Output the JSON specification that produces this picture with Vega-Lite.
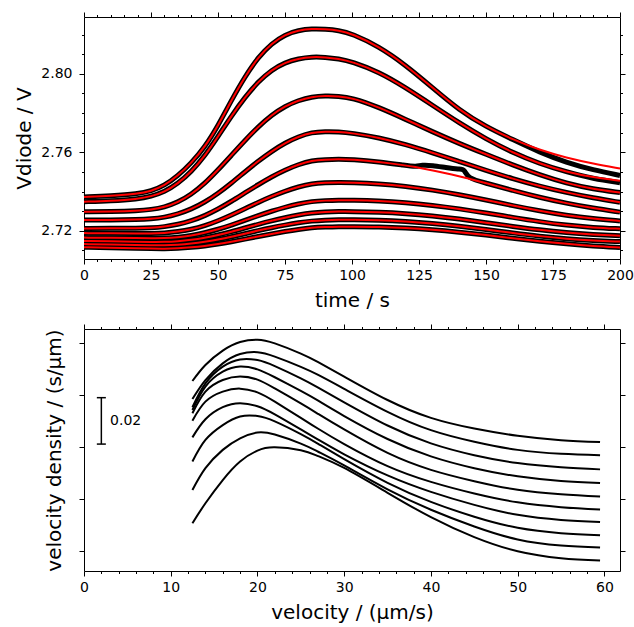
{
  "$schema": "https://vega.github.io/schema/vega-lite/v6.json",
  "padding": {"left": 14, "top": 11, "right": 8, "bottom": 5},
  "spacing": 13,
  "config": {
    "font": "DejaVu Sans",
    "view": {"stroke": null},
    "axis": {
      "labelFont": "DejaVu Sans", "titleFont": "DejaVu Sans",
      "labelFontSize": 14, "titleFontSize": 20, "titleFontWeight": "normal",
      "domainColor": "black", "tickColor": "black", "labelColor": "black", "titleColor": "black",
      "grid": false, "domainWidth": 1, "tickWidth": 1
    }
  },
  "datasets": {
    "vd": [
      {"c":1,"t":0,"f":2.7372,"m":2.7372},{"c":1,"t":10,"f":2.7378,"m":2.7378},{"c":1,"t":20,"f":2.7388,"m":2.7388},{"c":1,"t":25,"f":2.7402,"m":2.7402},{"c":1,"t":30,"f":2.743,"m":2.743},{"c":1,"t":35,"f":2.748,"m":2.748},{"c":1,"t":40,"f":2.7545,"m":2.7545},{"c":1,"t":45,"f":2.7625,"m":2.7625},{"c":1,"t":50,"f":2.7735,"m":2.7735},{"c":1,"t":55,"f":2.7865,"m":2.7865},{"c":1,"t":60,"f":2.7985,"m":2.7985},{"c":1,"t":65,"f":2.8085,"m":2.8085},{"c":1,"t":70,"f":2.8155,"m":2.8155},{"c":1,"t":75,"f":2.82,"m":2.82},{"c":1,"t":80,"f":2.8222,"m":2.8222},{"c":1,"t":85,"f":2.823,"m":2.823},{"c":1,"t":90,"f":2.8228,"m":2.8228},{"c":1,"t":95,"f":2.8222,"m":2.8222},{"c":1,"t":100,"f":2.8205,"m":2.8205},{"c":1,"t":110,"f":2.814,"m":2.814},{"c":1,"t":120,"f":2.8045,"m":2.8045},{"c":1,"t":130,"f":2.793,"m":2.793},{"c":1,"t":140,"f":2.7815,"m":2.7815},{"c":1,"t":150,"f":2.773,"m":2.773},{"c":1,"t":160,"f":2.7665,"m":2.7665},{"c":1,"t":170,"f":2.7612,"m":2.76},{"c":1,"t":180,"f":2.7572,"m":2.7548},{"c":1,"t":190,"f":2.7542,"m":2.751},{"c":1,"t":200,"f":2.7517,"m":2.7482},
      {"c":2,"t":0,"f":2.7348,"m":2.7348},{"c":2,"t":10,"f":2.7352,"m":2.7352},{"c":2,"t":20,"f":2.7362,"m":2.7362},{"c":2,"t":25,"f":2.7375,"m":2.7375},{"c":2,"t":30,"f":2.7398,"m":2.7398},{"c":2,"t":35,"f":2.744,"m":2.744},{"c":2,"t":40,"f":2.75,"m":2.75},{"c":2,"t":45,"f":2.758,"m":2.758},{"c":2,"t":50,"f":2.768,"m":2.768},{"c":2,"t":55,"f":2.7785,"m":2.7785},{"c":2,"t":60,"f":2.788,"m":2.788},{"c":2,"t":65,"f":2.796,"m":2.796},{"c":2,"t":70,"f":2.802,"m":2.802},{"c":2,"t":75,"f":2.8058,"m":2.8058},{"c":2,"t":80,"f":2.8078,"m":2.8078},{"c":2,"t":85,"f":2.8087,"m":2.8087},{"c":2,"t":90,"f":2.8085,"m":2.8085},{"c":2,"t":95,"f":2.8077,"m":2.8077},{"c":2,"t":100,"f":2.8062,"m":2.8062},{"c":2,"t":110,"f":2.801,"m":2.801},{"c":2,"t":120,"f":2.793,"m":2.793},{"c":2,"t":130,"f":2.784,"m":2.784},{"c":2,"t":140,"f":2.775,"m":2.775},{"c":2,"t":150,"f":2.7668,"m":2.7668},{"c":2,"t":160,"f":2.7598,"m":2.7598},{"c":2,"t":170,"f":2.7542,"m":2.7542},{"c":2,"t":180,"f":2.75,"m":2.75},{"c":2,"t":190,"f":2.7472,"m":2.7465},{"c":2,"t":200,"f":2.7455,"m":2.7445},
      {"c":3,"t":0,"f":2.7297,"m":2.7297},{"c":3,"t":10,"f":2.7298,"m":2.7298},{"c":3,"t":20,"f":2.7302,"m":2.7302},{"c":3,"t":25,"f":2.7308,"m":2.7308},{"c":3,"t":30,"f":2.732,"m":2.732},{"c":3,"t":35,"f":2.7345,"m":2.7345},{"c":3,"t":40,"f":2.7385,"m":2.7385},{"c":3,"t":45,"f":2.744,"m":2.744},{"c":3,"t":50,"f":2.751,"m":2.751},{"c":3,"t":55,"f":2.7585,"m":2.7585},{"c":3,"t":60,"f":2.766,"m":2.766},{"c":3,"t":65,"f":2.773,"m":2.773},{"c":3,"t":70,"f":2.779,"m":2.779},{"c":3,"t":75,"f":2.7835,"m":2.7835},{"c":3,"t":80,"f":2.7865,"m":2.7865},{"c":3,"t":85,"f":2.7883,"m":2.7883},{"c":3,"t":90,"f":2.7888,"m":2.7888},{"c":3,"t":95,"f":2.7886,"m":2.7886},{"c":3,"t":100,"f":2.7878,"m":2.7878},{"c":3,"t":110,"f":2.783,"m":2.783},{"c":3,"t":120,"f":2.7768,"m":2.7768},{"c":3,"t":130,"f":2.7705,"m":2.7705},{"c":3,"t":140,"f":2.7645,"m":2.7645},{"c":3,"t":150,"f":2.759,"m":2.759},{"c":3,"t":160,"f":2.7535,"m":2.7535},{"c":3,"t":170,"f":2.7485,"m":2.7485},{"c":3,"t":180,"f":2.7442,"m":2.7442},{"c":3,"t":190,"f":2.7412,"m":2.7412},{"c":3,"t":200,"f":2.7395,"m":2.7395},
      {"c":4,"t":0,"f":2.7255,"m":2.7255},{"c":4,"t":10,"f":2.7255,"m":2.7255},{"c":4,"t":20,"f":2.7257,"m":2.7257},{"c":4,"t":25,"f":2.726,"m":2.726},{"c":4,"t":30,"f":2.7268,"m":2.7268},{"c":4,"t":35,"f":2.7285,"m":2.7285},{"c":4,"t":40,"f":2.731,"m":2.731},{"c":4,"t":45,"f":2.7345,"m":2.7345},{"c":4,"t":50,"f":2.739,"m":2.739},{"c":4,"t":55,"f":2.7443,"m":2.7443},{"c":4,"t":60,"f":2.75,"m":2.75},{"c":4,"t":65,"f":2.7555,"m":2.7555},{"c":4,"t":70,"f":2.7605,"m":2.7605},{"c":4,"t":75,"f":2.7648,"m":2.7648},{"c":4,"t":80,"f":2.768,"m":2.768},{"c":4,"t":85,"f":2.7702,"m":2.7702},{"c":4,"t":90,"f":2.7706,"m":2.7706},{"c":4,"t":95,"f":2.7705,"m":2.7705},{"c":4,"t":100,"f":2.7698,"m":2.7698},{"c":4,"t":110,"f":2.7675,"m":2.7675},{"c":4,"t":120,"f":2.764,"m":2.764},{"c":4,"t":130,"f":2.7598,"m":2.7598},{"c":4,"t":140,"f":2.7553,"m":2.7553},{"c":4,"t":150,"f":2.7508,"m":2.7508},{"c":4,"t":160,"f":2.7465,"m":2.7465},{"c":4,"t":170,"f":2.7427,"m":2.7427},{"c":4,"t":180,"f":2.7395,"m":2.7395},{"c":4,"t":190,"f":2.7367,"m":2.7367},{"c":4,"t":200,"f":2.7345,"m":2.7345},
      {"c":5,"t":0,"f":2.7212,"m":2.7212},{"c":5,"t":10,"f":2.7212,"m":2.7212},{"c":5,"t":20,"f":2.7213,"m":2.7213},{"c":5,"t":25,"f":2.7215,"m":2.7215},{"c":5,"t":30,"f":2.722,"m":2.722},{"c":5,"t":35,"f":2.7232,"m":2.7232},{"c":5,"t":40,"f":2.725,"m":2.725},{"c":5,"t":45,"f":2.7276,"m":2.7276},{"c":5,"t":50,"f":2.731,"m":2.731},{"c":5,"t":55,"f":2.735,"m":2.735},{"c":5,"t":60,"f":2.7393,"m":2.7393},{"c":5,"t":65,"f":2.7435,"m":2.7435},{"c":5,"t":70,"f":2.7475,"m":2.7475},{"c":5,"t":75,"f":2.751,"m":2.751},{"c":5,"t":80,"f":2.7538,"m":2.7538},{"c":5,"t":85,"f":2.7558,"m":2.7558},{"c":5,"t":90,"f":2.7563,"m":2.7563},{"c":5,"t":95,"f":2.7565,"m":2.7565},{"c":5,"t":100,"f":2.7563,"m":2.7563},{"c":5,"t":110,"f":2.7552,"m":2.7552},{"c":5,"t":120,"f":2.7533,"m":2.7533},{"c":5,"t":124,"f":2.7524,"m":2.7526},{"c":5,"t":126,"f":2.7519,"m":2.7536},{"c":5,"t":130,"f":2.7508,"m":2.7533},{"c":5,"t":135,"f":2.7494,"m":2.7522},{"c":5,"t":140,"f":2.7478,"m":2.7513},{"c":5,"t":142,"f":2.7471,"m":2.7515},{"c":5,"t":143,"f":2.7468,"m":2.7468},{"c":5,"t":150,"f":2.7443,"m":2.7443},{"c":5,"t":160,"f":2.7405,"m":2.7405},{"c":5,"t":170,"f":2.737,"m":2.737},{"c":5,"t":180,"f":2.734,"m":2.734},{"c":5,"t":190,"f":2.7315,"m":2.7315},{"c":5,"t":200,"f":2.7295,"m":2.7295},
      {"c":6,"t":0,"f":2.7188,"m":2.7188},{"c":6,"t":10,"f":2.7187,"m":2.7187},{"c":6,"t":20,"f":2.7186,"m":2.7186},{"c":6,"t":25,"f":2.7186,"m":2.7186},{"c":6,"t":30,"f":2.7188,"m":2.7188},{"c":6,"t":35,"f":2.7195,"m":2.7195},{"c":6,"t":40,"f":2.7207,"m":2.7207},{"c":6,"t":45,"f":2.7225,"m":2.7225},{"c":6,"t":50,"f":2.725,"m":2.725},{"c":6,"t":55,"f":2.728,"m":2.728},{"c":6,"t":60,"f":2.7312,"m":2.7312},{"c":6,"t":65,"f":2.7345,"m":2.7345},{"c":6,"t":70,"f":2.7375,"m":2.7375},{"c":6,"t":75,"f":2.7402,"m":2.7402},{"c":6,"t":80,"f":2.7424,"m":2.7424},{"c":6,"t":85,"f":2.744,"m":2.744},{"c":6,"t":90,"f":2.7445,"m":2.7445},{"c":6,"t":95,"f":2.7447,"m":2.7447},{"c":6,"t":100,"f":2.7446,"m":2.7446},{"c":6,"t":110,"f":2.744,"m":2.744},{"c":6,"t":120,"f":2.7427,"m":2.7427},{"c":6,"t":130,"f":2.7408,"m":2.7408},{"c":6,"t":140,"f":2.7384,"m":2.7384},{"c":6,"t":150,"f":2.7357,"m":2.7357},{"c":6,"t":160,"f":2.7328,"m":2.7328},{"c":6,"t":170,"f":2.7301,"m":2.7301},{"c":6,"t":180,"f":2.7278,"m":2.7278},{"c":6,"t":190,"f":2.7261,"m":2.7261},{"c":6,"t":200,"f":2.725,"m":2.725},
      {"c":7,"t":0,"f":2.7165,"m":2.7165},{"c":7,"t":10,"f":2.7164,"m":2.7164},{"c":7,"t":20,"f":2.7163,"m":2.7163},{"c":7,"t":25,"f":2.7162,"m":2.7162},{"c":7,"t":30,"f":2.7162,"m":2.7162},{"c":7,"t":35,"f":2.7166,"m":2.7166},{"c":7,"t":40,"f":2.7175,"m":2.7175},{"c":7,"t":45,"f":2.7189,"m":2.7189},{"c":7,"t":50,"f":2.7207,"m":2.7207},{"c":7,"t":55,"f":2.7229,"m":2.7229},{"c":7,"t":60,"f":2.7253,"m":2.7253},{"c":7,"t":65,"f":2.7277,"m":2.7277},{"c":7,"t":70,"f":2.73,"m":2.73},{"c":7,"t":75,"f":2.732,"m":2.732},{"c":7,"t":80,"f":2.7337,"m":2.7337},{"c":7,"t":85,"f":2.735,"m":2.735},{"c":7,"t":90,"f":2.7354,"m":2.7354},{"c":7,"t":95,"f":2.7356,"m":2.7356},{"c":7,"t":100,"f":2.7356,"m":2.7356},{"c":7,"t":110,"f":2.7353,"m":2.7353},{"c":7,"t":120,"f":2.7344,"m":2.7344},{"c":7,"t":130,"f":2.733,"m":2.733},{"c":7,"t":140,"f":2.7312,"m":2.7312},{"c":7,"t":150,"f":2.7291,"m":2.7291},{"c":7,"t":160,"f":2.7268,"m":2.7268},{"c":7,"t":170,"f":2.7246,"m":2.7246},{"c":7,"t":180,"f":2.7228,"m":2.7228},{"c":7,"t":190,"f":2.7216,"m":2.7216},{"c":7,"t":200,"f":2.721,"m":2.721},
      {"c":8,"t":0,"f":2.7148,"m":2.7148},{"c":8,"t":10,"f":2.7146,"m":2.7146},{"c":8,"t":20,"f":2.7144,"m":2.7144},{"c":8,"t":25,"f":2.7143,"m":2.7143},{"c":8,"t":30,"f":2.7143,"m":2.7143},{"c":8,"t":35,"f":2.7146,"m":2.7146},{"c":8,"t":40,"f":2.7153,"m":2.7153},{"c":8,"t":45,"f":2.7164,"m":2.7164},{"c":8,"t":50,"f":2.7178,"m":2.7178},{"c":8,"t":55,"f":2.7195,"m":2.7195},{"c":8,"t":60,"f":2.7214,"m":2.7214},{"c":8,"t":65,"f":2.7233,"m":2.7233},{"c":8,"t":70,"f":2.7251,"m":2.7251},{"c":8,"t":75,"f":2.7267,"m":2.7267},{"c":8,"t":80,"f":2.7281,"m":2.7281},{"c":8,"t":85,"f":2.7292,"m":2.7292},{"c":8,"t":90,"f":2.7296,"m":2.7296},{"c":8,"t":95,"f":2.7298,"m":2.7298},{"c":8,"t":100,"f":2.7298,"m":2.7298},{"c":8,"t":110,"f":2.7295,"m":2.7295},{"c":8,"t":120,"f":2.7288,"m":2.7288},{"c":8,"t":130,"f":2.7276,"m":2.7276},{"c":8,"t":140,"f":2.726,"m":2.726},{"c":8,"t":150,"f":2.7241,"m":2.7241},{"c":8,"t":160,"f":2.7222,"m":2.7222},{"c":8,"t":170,"f":2.7204,"m":2.7204},{"c":8,"t":180,"f":2.719,"m":2.719},{"c":8,"t":190,"f":2.7181,"m":2.7181},{"c":8,"t":200,"f":2.7175,"m":2.7175},
      {"c":9,"t":0,"f":2.7132,"m":2.7132},{"c":9,"t":10,"f":2.713,"m":2.713},{"c":9,"t":20,"f":2.7127,"m":2.7127},{"c":9,"t":25,"f":2.7126,"m":2.7126},{"c":9,"t":30,"f":2.7125,"m":2.7125},{"c":9,"t":35,"f":2.7128,"m":2.7128},{"c":9,"t":40,"f":2.7134,"m":2.7134},{"c":9,"t":45,"f":2.7143,"m":2.7143},{"c":9,"t":50,"f":2.7155,"m":2.7155},{"c":9,"t":55,"f":2.7169,"m":2.7169},{"c":9,"t":60,"f":2.7185,"m":2.7185},{"c":9,"t":65,"f":2.7201,"m":2.7201},{"c":9,"t":70,"f":2.7216,"m":2.7216},{"c":9,"t":75,"f":2.7229,"m":2.7229},{"c":9,"t":80,"f":2.7241,"m":2.7241},{"c":9,"t":85,"f":2.725,"m":2.725},{"c":9,"t":90,"f":2.7254,"m":2.7254},{"c":9,"t":95,"f":2.7256,"m":2.7256},{"c":9,"t":100,"f":2.7256,"m":2.7256},{"c":9,"t":110,"f":2.7254,"m":2.7254},{"c":9,"t":120,"f":2.7248,"m":2.7248},{"c":9,"t":130,"f":2.7238,"m":2.7238},{"c":9,"t":140,"f":2.7224,"m":2.7224},{"c":9,"t":150,"f":2.7207,"m":2.7207},{"c":9,"t":160,"f":2.7189,"m":2.7189},{"c":9,"t":170,"f":2.7172,"m":2.7172},{"c":9,"t":180,"f":2.7159,"m":2.7159},{"c":9,"t":190,"f":2.715,"m":2.715},{"c":9,"t":200,"f":2.7145,"m":2.7145},
      {"c":10,"t":0,"f":2.7116,"m":2.7116},{"c":10,"t":10,"f":2.7114,"m":2.7114},{"c":10,"t":20,"f":2.7111,"m":2.7111},{"c":10,"t":25,"f":2.7109,"m":2.7109},{"c":10,"t":30,"f":2.7108,"m":2.7108},{"c":10,"t":35,"f":2.711,"m":2.711},{"c":10,"t":40,"f":2.7115,"m":2.7115},{"c":10,"t":45,"f":2.7122,"m":2.7122},{"c":10,"t":50,"f":2.7132,"m":2.7132},{"c":10,"t":55,"f":2.7144,"m":2.7144},{"c":10,"t":60,"f":2.7157,"m":2.7157},{"c":10,"t":65,"f":2.7171,"m":2.7171},{"c":10,"t":70,"f":2.7184,"m":2.7184},{"c":10,"t":75,"f":2.7196,"m":2.7196},{"c":10,"t":80,"f":2.7207,"m":2.7207},{"c":10,"t":85,"f":2.7216,"m":2.7216},{"c":10,"t":90,"f":2.7219,"m":2.7219},{"c":10,"t":95,"f":2.7221,"m":2.7221},{"c":10,"t":100,"f":2.7221,"m":2.7221},{"c":10,"t":110,"f":2.722,"m":2.722},{"c":10,"t":120,"f":2.7215,"m":2.7215},{"c":10,"t":130,"f":2.7206,"m":2.7206},{"c":10,"t":140,"f":2.7193,"m":2.7193},{"c":10,"t":150,"f":2.7178,"m":2.7178},{"c":10,"t":160,"f":2.7162,"m":2.7162},{"c":10,"t":170,"f":2.7146,"m":2.7146},{"c":10,"t":180,"f":2.7133,"m":2.7133},{"c":10,"t":190,"f":2.7122,"m":2.7122},{"c":10,"t":200,"f":2.7115,"m":2.7115}
    ],
    "vel": [
      {"c":1,"v":12.5,"d":0.0819},{"c":1,"v":14,"d":0.0888},{"c":1,"v":16,"d":0.095},{"c":1,"v":18,"d":0.0987},{"c":1,"v":20,"d":0.0997},{"c":1,"v":22,"d":0.0981},{"c":1,"v":25,"d":0.0937},{"c":1,"v":27,"d":0.09},{"c":1,"v":30,"d":0.0838},{"c":1,"v":35,"d":0.0737},{"c":1,"v":40,"d":0.066},{"c":1,"v":45,"d":0.0614},{"c":1,"v":50,"d":0.0583},{"c":1,"v":55,"d":0.0564},{"c":1,"v":59.5,"d":0.0556},
      {"c":2,"v":12.5,"d":0.0741},{"c":2,"v":14,"d":0.0823},{"c":2,"v":16,"d":0.0895},{"c":2,"v":18,"d":0.0935},{"c":2,"v":20,"d":0.0943},{"c":2,"v":22,"d":0.0924},{"c":2,"v":25,"d":0.088},{"c":2,"v":27,"d":0.0845},{"c":2,"v":30,"d":0.0785},{"c":2,"v":35,"d":0.0686},{"c":2,"v":40,"d":0.0607},{"c":2,"v":45,"d":0.0557},{"c":2,"v":50,"d":0.0522},{"c":2,"v":55,"d":0.0505},{"c":2,"v":59.5,"d":0.0499},
      {"c":3,"v":12.5,"d":0.0706},{"c":3,"v":14,"d":0.0809},{"c":3,"v":16,"d":0.0881},{"c":3,"v":18,"d":0.0912},{"c":3,"v":20,"d":0.0909},{"c":3,"v":22,"d":0.0883},{"c":3,"v":25,"d":0.083},{"c":3,"v":27,"d":0.079},{"c":3,"v":30,"d":0.0727},{"c":3,"v":35,"d":0.0627},{"c":3,"v":40,"d":0.055},{"c":3,"v":45,"d":0.0499},{"c":3,"v":50,"d":0.0465},{"c":3,"v":55,"d":0.0447},{"c":3,"v":59.5,"d":0.0438},
      {"c":4,"v":12.5,"d":0.0694},{"c":4,"v":14,"d":0.0795},{"c":4,"v":16,"d":0.0859},{"c":4,"v":18,"d":0.0881},{"c":4,"v":20,"d":0.0869},{"c":4,"v":22,"d":0.0835},{"c":4,"v":25,"d":0.0776},{"c":4,"v":27,"d":0.0734},{"c":4,"v":30,"d":0.0668},{"c":4,"v":35,"d":0.0569},{"c":4,"v":40,"d":0.0494},{"c":4,"v":45,"d":0.0443},{"c":4,"v":50,"d":0.0408},{"c":4,"v":55,"d":0.0388},{"c":4,"v":59.5,"d":0.0379},
      {"c":5,"v":12.5,"d":0.068},{"c":5,"v":14,"d":0.0773},{"c":5,"v":16,"d":0.0823},{"c":5,"v":18,"d":0.0838},{"c":5,"v":20,"d":0.0825},{"c":5,"v":22,"d":0.0787},{"c":5,"v":25,"d":0.0722},{"c":5,"v":27,"d":0.0677},{"c":5,"v":30,"d":0.061},{"c":5,"v":35,"d":0.0509},{"c":5,"v":40,"d":0.0436},{"c":5,"v":45,"d":0.0387},{"c":5,"v":50,"d":0.035},{"c":5,"v":55,"d":0.0331},{"c":5,"v":59.5,"d":0.0321},
      {"c":6,"v":12.5,"d":0.0648},{"c":6,"v":14,"d":0.073},{"c":6,"v":16,"d":0.0773},{"c":6,"v":18,"d":0.0786},{"c":6,"v":20,"d":0.077},{"c":6,"v":22,"d":0.073},{"c":6,"v":25,"d":0.066},{"c":6,"v":27,"d":0.0613},{"c":6,"v":30,"d":0.0547},{"c":6,"v":35,"d":0.0452},{"c":6,"v":40,"d":0.0384},{"c":6,"v":45,"d":0.0334},{"c":6,"v":50,"d":0.0296},{"c":6,"v":55,"d":0.0275},{"c":6,"v":59.5,"d":0.0265},
      {"c":7,"v":12.5,"d":0.0576},{"c":7,"v":14,"d":0.0654},{"c":7,"v":16,"d":0.0706},{"c":7,"v":18,"d":0.0723},{"c":7,"v":20,"d":0.071},{"c":7,"v":22,"d":0.0675},{"c":7,"v":25,"d":0.061},{"c":7,"v":27,"d":0.0566},{"c":7,"v":30,"d":0.0503},{"c":7,"v":35,"d":0.0412},{"c":7,"v":40,"d":0.0341},{"c":7,"v":45,"d":0.0285},{"c":7,"v":50,"d":0.0242},{"c":7,"v":55,"d":0.022},{"c":7,"v":59.5,"d":0.0211},
      {"c":8,"v":12.5,"d":0.0472},{"c":8,"v":14,"d":0.0565},{"c":8,"v":16,"d":0.0629},{"c":8,"v":18,"d":0.0666},{"c":8,"v":20,"d":0.0668},{"c":8,"v":22,"d":0.0645},{"c":8,"v":25,"d":0.059},{"c":8,"v":27,"d":0.0548},{"c":8,"v":30,"d":0.0482},{"c":8,"v":35,"d":0.038},{"c":8,"v":40,"d":0.0298},{"c":8,"v":45,"d":0.0234},{"c":8,"v":50,"d":0.0186},{"c":8,"v":55,"d":0.0163},{"c":8,"v":59.5,"d":0.0154},
      {"c":9,"v":12.5,"d":0.0349},{"c":9,"v":14,"d":0.0443},{"c":9,"v":16,"d":0.0522},{"c":9,"v":18,"d":0.0572},{"c":9,"v":20,"d":0.0597},{"c":9,"v":22,"d":0.0588},{"c":9,"v":25,"d":0.0549},{"c":9,"v":27,"d":0.0514},{"c":9,"v":30,"d":0.0455},{"c":9,"v":35,"d":0.0352},{"c":9,"v":40,"d":0.0264},{"c":9,"v":45,"d":0.0192},{"c":9,"v":50,"d":0.0136},{"c":9,"v":55,"d":0.011},{"c":9,"v":59.5,"d":0.0101},
      {"c":10,"v":12.5,"d":0.0206},{"c":10,"v":14,"d":0.0292},{"c":10,"v":16,"d":0.0392},{"c":10,"v":18,"d":0.0472},{"c":10,"v":20,"d":0.0519},{"c":10,"v":22,"d":0.0533},{"c":10,"v":25,"d":0.052},{"c":10,"v":27,"d":0.0495},{"c":10,"v":30,"d":0.0444},{"c":10,"v":35,"d":0.0337},{"c":10,"v":40,"d":0.0232},{"c":10,"v":45,"d":0.0146},{"c":10,"v":50,"d":0.0085},{"c":10,"v":55,"d":0.0055},{"c":10,"v":59.5,"d":0.0045}
    ],
    "bar": [{"x": 2, "lo": 0.0547, "hi": 0.0747}],
    "caps": [{"x1": 1.48, "x2": 2.52, "y": 0.0547}, {"x1": 1.48, "x2": 2.52, "y": 0.0747}],
    "lab": [{"x": 3.0, "y": 0.0647, "label": "0.02"}]
  },
  "vconcat": [
    {
      "width": 536, "height": 242,
      "data": {"name": "vd"},
      "layer": [
        {
          "mark": {"type": "line", "color": "black", "strokeWidth": 5, "interpolate": "basis"},
          "encoding": {
            "x": {"field": "t", "type": "quantitative", "scale": {"domain": [0, 200], "nice": false, "zero": false},
              "axis": {"orient": "bottom", "title": "time / s", "values": [0,5,10,15,20,25,30,35,40,45,50,55,60,65,70,75,80,85,90,95,100,105,110,115,120,125,130,135,140,145,150,155,160,165,170,175,180,185,190,195,200],
                "labelExpr": "datum.value % 25 == 0 ? datum.label : ''", "tickSize": {"condition": {"test": "datum.value % 25 == 0", "value": 5}, "value": 2.5},
                "labelPadding": 4, "titlePadding": 8, "labelFlush": false}},
            "y": {"field": "m", "type": "quantitative", "scale": {"domain": [2.7056, 2.829], "nice": false, "zero": false},
              "axis": {"orient": "left", "title": "Vdiode / V", "format": ".2f", "values": [2.71,2.72,2.73,2.74,2.75,2.76,2.77,2.78,2.79,2.8,2.81,2.82],
                "labelExpr": "round(datum.value*100) % 4 == 0 ? datum.label : ''", "tickSize": {"condition": {"test": "round(datum.value*100) % 4 == 0", "value": 5}, "value": 2.5},
                "labelPadding": 7, "titlePadding": 6}},
            "detail": {"field": "c", "type": "nominal"}
          }
        },
        {
          "mark": {"type": "line", "color": "#ff0000", "strokeWidth": 2, "interpolate": "basis"},
          "encoding": {
            "x": {"field": "t", "type": "quantitative", "scale": {"domain": [0, 200], "nice": false, "zero": false},
              "axis": {"orient": "top", "title": null, "labels": false, "values": [0,5,10,15,20,25,30,35,40,45,50,55,60,65,70,75,80,85,90,95,100,105,110,115,120,125,130,135,140,145,150,155,160,165,170,175,180,185,190,195,200],
                "tickSize": {"condition": {"test": "datum.value % 25 == 0", "value": 5}, "value": 2.5}}},
            "y": {"field": "f", "type": "quantitative", "scale": {"domain": [2.7056, 2.829], "nice": false, "zero": false},
              "axis": {"orient": "right", "title": null, "labels": false, "values": [2.71,2.72,2.73,2.74,2.75,2.76,2.77,2.78,2.79,2.8,2.81,2.82],
                "tickSize": {"condition": {"test": "round(datum.value*100) % 4 == 0", "value": 5}, "value": 2.5}}},
            "detail": {"field": "c", "type": "nominal"}
          }
        }
      ],
      "resolve": {"axis": {"x": "independent", "y": "independent"}}
    },
    {
      "width": 536, "height": 242,
      "layer": [
        {
          "data": {"name": "vel"},
          "mark": {"type": "line", "color": "black", "strokeWidth": 2, "interpolate": "natural"},
          "encoding": {
            "x": {"field": "v", "type": "quantitative", "scale": {"domain": [0, 61.8], "nice": false, "zero": false},
              "axis": {"orient": "bottom", "title": "velocity / (µm/s)", "values": [0,2,4,6,8,10,12,14,16,18,20,22,24,26,28,30,32,34,36,38,40,42,44,46,48,50,52,54,56,58,60],
                "labelExpr": "datum.value % 10 == 0 ? datum.label : ''", "tickSize": {"condition": {"test": "datum.value % 10 == 0", "value": 5}, "value": 2.5},
                "labelPadding": 4, "titlePadding": 8, "labelFlush": false}},
            "y": {"field": "d", "type": "quantitative", "scale": {"domain": [0, 0.1043], "nice": false, "zero": false},
              "axis": {"orient": "left", "title": "velocity density / (s/µm)", "labels": false, "values": [0.0086, 0.031, 0.0534, 0.0759, 0.0984], "tickSize": 5, "titlePadding": 14}},
            "detail": {"field": "c", "type": "nominal"}
          }
        },
        {
          "data": {"name": "bar"},
          "mark": {"type": "rule", "color": "black", "strokeWidth": 1.5},
          "encoding": {
            "x": {"field": "x", "type": "quantitative", "scale": {"domain": [0, 61.8], "nice": false, "zero": false},
              "axis": {"orient": "top", "title": null, "labels": false, "values": [0,2,4,6,8,10,12,14,16,18,20,22,24,26,28,30,32,34,36,38,40,42,44,46,48,50,52,54,56,58,60],
                "tickSize": {"condition": {"test": "datum.value % 10 == 0", "value": 5}, "value": 2.5}}},
            "y": {"field": "lo", "type": "quantitative", "scale": {"domain": [0, 0.1043], "nice": false, "zero": false},
              "axis": {"orient": "right", "title": null, "labels": false, "values": [0.0086, 0.031, 0.0534, 0.0759, 0.0984], "tickSize": 5}},
            "y2": {"field": "hi"}
          }
        },
        {
          "data": {"name": "caps"},
          "mark": {"type": "rule", "color": "black", "strokeWidth": 1.5},
          "encoding": {
            "x": {"field": "x1", "type": "quantitative", "axis": null},
            "x2": {"field": "x2"},
            "y": {"field": "y", "type": "quantitative", "axis": null}
          }
        },
        {
          "data": {"name": "lab"},
          "mark": {"type": "text", "align": "left", "baseline": "middle", "fontSize": 14, "font": "DejaVu Sans", "color": "black"},
          "encoding": {
            "x": {"field": "x", "type": "quantitative", "axis": null},
            "y": {"field": "y", "type": "quantitative", "axis": null},
            "text": {"field": "label"}
          }
        }
      ],
      "resolve": {"axis": {"x": "independent", "y": "independent"}}
    }
  ]
}
